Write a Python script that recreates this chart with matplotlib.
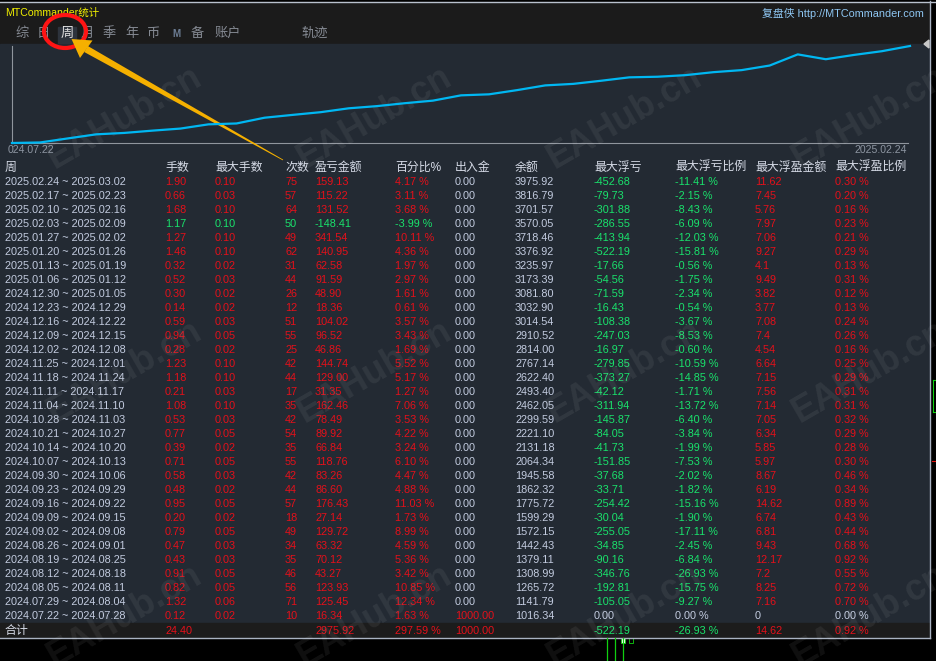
import matplotlib
matplotlib.use("Agg")
import matplotlib.pyplot as plt
from matplotlib.patches import Rectangle, Ellipse, Polygon

plt.rcParams['font.family'] = ['Liberation Sans', 'Noto Sans CJK SC', 'DejaVu Sans']

# ---- data (top row = latest week) ----
week_start = ["2025.02.24", "2025.02.17", "2025.02.10", "2025.02.03", "2025.01.27", "2025.01.20",
              "2025.01.13", "2025.01.06", "2024.12.30", "2024.12.23", "2024.12.16", "2024.12.09",
              "2024.12.02", "2024.11.25", "2024.11.18", "2024.11.11", "2024.11.04", "2024.10.28",
              "2024.10.21", "2024.10.14", "2024.10.07", "2024.09.30", "2024.09.23", "2024.09.16",
              "2024.09.09", "2024.09.02", "2024.08.26", "2024.08.19", "2024.08.12", "2024.08.05",
              "2024.07.29", "2024.07.22"]
week_end = ["2025.03.02", "2025.02.23", "2025.02.16", "2025.02.09", "2025.02.02", "2025.01.26",
            "2025.01.19", "2025.01.12", "2025.01.05", "2024.12.29", "2024.12.22", "2024.12.15",
            "2024.12.08", "2024.12.01", "2024.11.24", "2024.11.17", "2024.11.10", "2024.11.03",
            "2024.10.27", "2024.10.20", "2024.10.13", "2024.10.06", "2024.09.29", "2024.09.22",
            "2024.09.15", "2024.09.08", "2024.09.01", "2024.08.25", "2024.08.18", "2024.08.11",
            "2024.08.04", "2024.07.28"]
lots = [1.90, 0.66, 1.68, 1.17, 1.27, 1.46, 0.32, 0.52, 0.30, 0.14, 0.59, 0.94, 0.28, 1.23, 1.18, 0.21,
        1.08, 0.53, 0.77, 0.39, 0.71, 0.58, 0.48, 0.95, 0.20, 0.79, 0.47, 0.43, 0.91, 0.82, 1.32, 0.12]
max_lots = [0.10, 0.03, 0.10, 0.10, 0.10, 0.10, 0.02, 0.03, 0.02, 0.02, 0.03, 0.05, 0.02, 0.10, 0.10, 0.03,
            0.10, 0.03, 0.05, 0.02, 0.05, 0.03, 0.02, 0.05, 0.02, 0.05, 0.03, 0.03, 0.05, 0.05, 0.06, 0.02]
trades = [75, 57, 64, 50, 49, 62, 31, 44, 26, 12, 51, 55, 25, 42, 44, 17,
          35, 42, 54, 35, 55, 42, 44, 57, 18, 49, 34, 35, 46, 56, 71, 10]
pnl = [159.13, 115.22, 131.52, -148.41, 341.54, 140.95, 62.58, 91.59, 48.90, 18.36, 104.02, 96.52,
       46.86, 144.74, 129.00, 31.35, 162.46, 78.49, 89.92, 66.84, 118.76, 83.26, 86.60, 176.43,
       27.14, 129.72, 63.32, 70.12, 43.27, 123.93, 125.45, 16.34]
pnl_pct = [4.17, 3.11, 3.68, -3.99, 10.11, 4.36, 1.97, 2.97, 1.61, 0.61, 3.57, 3.43, 1.69, 5.52, 5.17, 1.27,
           7.06, 3.53, 4.22, 3.24, 6.10, 4.47, 4.88, 11.03, 1.73, 8.99, 4.59, 5.36, 3.42, 10.85, 12.34, 1.63]
deposit = [0.0] * 31 + [1000.0]
balance = [3975.92, 3816.79, 3701.57, 3570.05, 3718.46, 3376.92, 3235.97, 3173.39, 3081.80, 3032.90,
           3014.54, 2910.52, 2814.00, 2767.14, 2622.40, 2493.40, 2462.05, 2299.59, 2221.10, 2131.18,
           2064.34, 1945.58, 1862.32, 1775.72, 1599.29, 1572.15, 1442.43, 1379.11, 1308.99, 1265.72,
           1141.79, 1016.34]
float_loss = [-452.68, -79.73, -301.88, -286.55, -413.94, -522.19, -17.66, -54.56, -71.59, -16.43,
              -108.38, -247.03, -16.97, -279.85, -373.27, -42.12, -311.94, -145.87, -84.05, -41.73,
              -151.85, -37.68, -33.71, -254.42, -30.04, -255.05, -34.85, -90.16, -346.76, -192.81,
              -105.05, 0.00]
float_loss_pct = [-11.41, -2.15, -8.43, -6.09, -12.03, -15.81, -0.56, -1.75, -2.34, -0.54, -3.67, -8.53,
                  -0.60, -10.59, -14.85, -1.71, -13.72, -6.40, -3.84, -1.99, -7.53, -2.02, -1.82, -15.16,
                  -1.90, -17.11, -2.45, -6.84, -26.93, -15.75, -9.27, 0.00]
float_profit = [11.62, 7.45, 5.76, 7.97, 7.06, 9.27, 4.1, 9.49, 3.82, 3.77, 7.08, 7.4, 4.54, 6.64, 7.15, 7.56,
                7.14, 7.05, 6.34, 5.85, 5.97, 8.67, 6.19, 14.62, 6.74, 6.81, 9.43, 12.17, 7.2, 8.25, 7.16, 0]
float_profit_pct = [0.30, 0.20, 0.16, 0.23, 0.21, 0.29, 0.13, 0.31, 0.12, 0.13, 0.24, 0.26, 0.16, 0.25, 0.29,
                    0.31, 0.31, 0.32, 0.29, 0.28, 0.30, 0.46, 0.34, 0.89, 0.43, 0.44, 0.68, 0.92, 0.55, 0.72,
                    0.70, 0.00]
headers = ["周", "手数", "最大手数", "次数", "盈亏金额", "百分比%", "出入金", "余额",
           "最大浮亏", "最大浮亏比例", "最大浮盈金额", "最大浮盈比例"]
tabs = ["综", "日", "周", "月", "季", "年", "币", "M", "备", "账户", "轨迹"]

# ---- colours ----
RED = '#e5101a'
GREEN = '#19e36c'
LIGHT = '#c3cce0'
HEAD = '#d6dbe7'
PANEL = '#232a33'
BAR = '#1b1b1b'

W, H = 936, 661
fig = plt.figure(figsize=(W / 100, H / 100), dpi=100, facecolor='black')
ax = fig.add_axes([0, 0, 1, 1])
ax.set_xlim(0, W)
ax.set_ylim(H, 0)
ax.axis('off')
ax.set_facecolor('black')

# panels
ax.add_patch(Rectangle((0, 2), 929, 42, color=BAR, zorder=0))
ax.add_patch(Rectangle((0, 44), 929, 579, color=PANEL, zorder=0))
ax.add_patch(Rectangle((0, 623), 929, 14, color='#1c1c1c', zorder=0))
ax.plot([0, 936], [1.5, 1.5], color='#b9c1cd', lw=1)
ax.plot([929.5, 929.5], [1, 637.5], color='#aab3c2', lw=1)
ax.plot([0, 929.5], [637.5, 637.5], color='#aab3c2', lw=1)
ax.add_patch(Polygon([(924, 44), (929, 40), (929, 48)], color='#c8c8c8'))

# title bar
ax.text(5, 13, "MTCommander统计", color='#f2f000', fontsize=7.6, va='center', ha='left')
ax.text(924, 13, "复盘侠 http://MTCommander.com", color='#8ec6f2', fontsize=7.8, va='center', ha='right')

tab_x = [22, 43, 67, 87, 109, 132, 153, 176, 197, 228, 315]
ax.add_patch(Rectangle((58, 27), 18, 16, color='#2d333c', zorder=1))
for t, x in zip(tabs, tab_x):
    c = '#e0e0e0' if t == "周" else ('#6c7d94' if t == "M" else '#858a93')
    fw = 'bold' if t == "M" else 'normal'
    ax.text(x, 34, t, color=c, fontsize=9.5 if t != "M" else 7, fontweight=fw,
            ha='center', va='center', zorder=2)

# equity curve
ax.plot([12, 12], [46, 143], color='#8f959d', lw=0.8)
ax.plot([12, 908], [143, 143], color='#8f959d', lw=0.8)
ax.text(8, 150, "024.07.22", color='#8d95a1', fontsize=7.6, va='center', ha='left')
ax.text(907, 150, "2025.02.24", color='#8d95a1', fontsize=7.6, va='center', ha='right')

curve = [1000.0] + balance[::-1]
cax = fig.add_axes([12 / W, 1 - 143 / H, (910 - 12) / W, (143 - 46) / H])
cax.patch.set_alpha(0)
cax.axis('off')
cax.plot(range(len(curve)), curve, color='#00b7f2', lw=1.6, clip_on=False)
cax.set_xlim(0, len(curve) - 1)
cax.set_ylim(min(curve), max(curve))

# table
col_x = [5, 165, 215, 285, 315, 395, 455, 515, 594, 675, 755, 835]
for h, x in zip(headers, col_x):
    ax.text(x, 168, h, color=HEAD, fontsize=8.6, va='center', ha='left')


def sign_color(v):
    if v > 0:
        return RED
    if v < 0:
        return GREEN
    return LIGHT


NUM = 7.8
for i in range(len(week_start)):
    y = 182 + 14 * i
    wc = RED if pnl[i] > 0 else GREEN
    cells = [
        (f"{week_start[i]} ~ {week_end[i]}", LIGHT),
        (f"{lots[i]:.2f}", wc),
        (f"{max_lots[i]:.2f}", wc),
        (f"{trades[i]}", wc),
        (f"{pnl[i]:.2f}", wc),
        (f"{pnl_pct[i]:.2f} %", wc),
        (f"{deposit[i]:.2f}", sign_color(deposit[i])),
        (f"{balance[i]:.2f}", LIGHT),
        (f"{float_loss[i]:.2f}", sign_color(float_loss[i])),
        (f"{float_loss_pct[i]:.2f} %", sign_color(float_loss_pct[i])),
        (f"{float_profit[i]:g}", sign_color(float_profit[i])),
        (f"{float_profit_pct[i]:.2f} %", sign_color(float_profit_pct[i])),
    ]
    for (s, c), x in zip(cells, col_x):
        ax.text(x, y, s, color=c, fontsize=NUM, va='center', ha='left')

# totals row
tot_dep = sum(deposit)
tot_pnl = sum(pnl)
totals = [
    ("合计", col_x[0], HEAD),
    (f"{sum(lots):.2f}", col_x[1], RED),
    (f"{tot_pnl:.2f}", col_x[4], RED),
    (f"{tot_pnl / tot_dep * 100:.2f} %", col_x[5], RED),
    (f"{tot_dep:.2f}", col_x[6], RED),
    (f"{min(float_loss):.2f}", col_x[8], GREEN),
    (f"{min(float_loss_pct):.2f} %", col_x[9], GREEN),
    (f"{max(float_profit):.2f}", col_x[10], RED),
    (f"{max(float_profit_pct):.2f} %", col_x[11], RED),
]
for s, x, c in totals:
    ax.text(x, 631, s, color=c, fontsize=NUM if s != "合计" else 8.6, va='center', ha='left')

# bits of the chart behind the window
for x in [607, 615, 623]:
    ax.plot([x, x], [638, 661], color='#10d010', lw=0.9)
ax.add_patch(Rectangle((621, 638), 4, 5, facecolor='white', edgecolor='#10d010', lw=0.6))
ax.add_patch(Rectangle((629, 638), 4, 5, facecolor='none', edgecolor='#10d010', lw=0.6))
ax.plot([933, 936], [380, 380], color='#10d010', lw=0.8)
ax.plot([933, 933], [380, 412], color='#10d010', lw=0.8)
ax.plot([933, 936], [412, 412], color='#10d010', lw=0.8)
ax.plot([932, 936], [461, 461], color='#e01010', lw=0.8)

# watermarks (cut at the window edge, as in the screenshot)
for wy in [118, 372, 616]:
    for wx in [125, 375, 625, 870]:
        ax.text(wx, wy, "EAHub.cn", color='white', alpha=0.065, fontsize=26, fontweight='bold',
                rotation=30, ha='center', va='center', rotation_mode='anchor', zorder=5,
                clip_on=True)

# red circle + arrow annotation
ax.add_patch(Ellipse((65, 31.5), 42, 33, fill=False, edgecolor='#ff1414', lw=3.0, zorder=6))
hx, hy = 86, 49
tx, ty = 283, 160
dx, dy = tx - hx, ty - hy
ln = (dx ** 2 + dy ** 2) ** 0.5
px, py = -dy / ln, dx / ln
shaft = [(hx + px * 3.5, hy + py * 3.5), (hx - px * 3.5, hy - py * 3.5),
         (tx - px * 0.4, ty - py * 0.4), (tx + px * 0.4, ty + py * 0.4)]
ax.add_patch(Polygon(shaft, color='#f5b000', zorder=6, lw=0))
ax.add_patch(Polygon([(71.5, 39), (92.5, 40.5), (80, 58)], color='#f5b000', zorder=6, lw=0))

fig.savefig("out.png", dpi=100, facecolor='black')
